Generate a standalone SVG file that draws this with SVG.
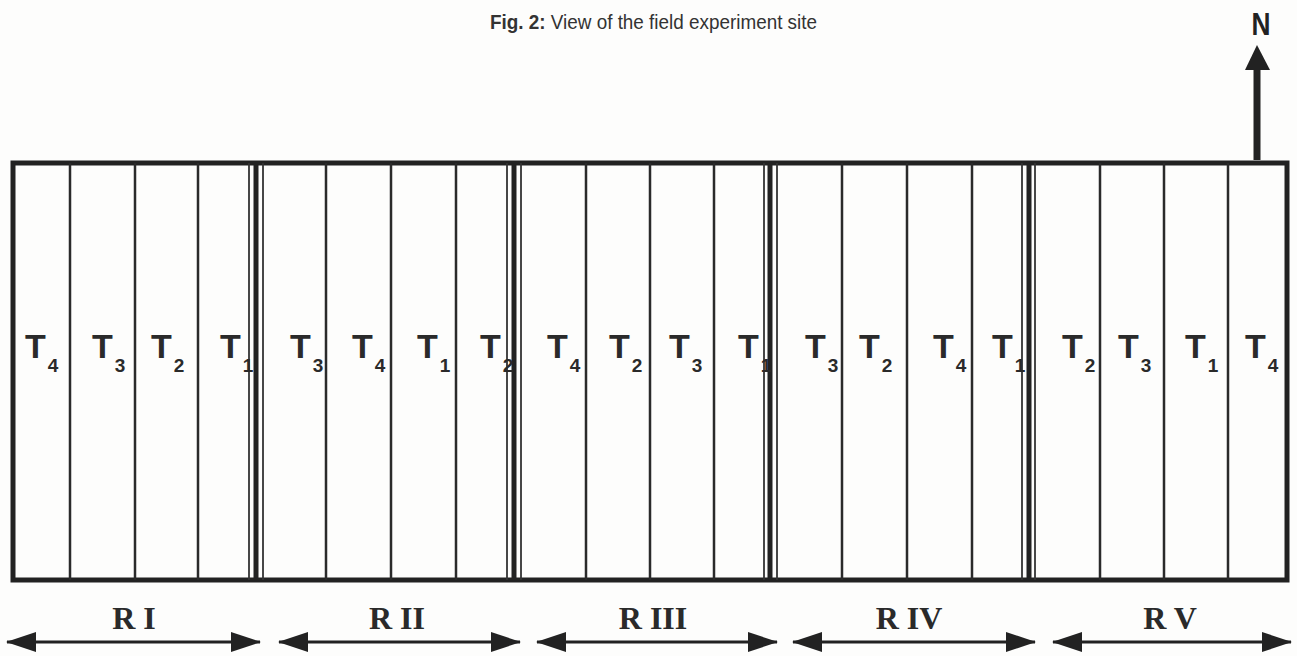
<svg xmlns="http://www.w3.org/2000/svg" width="1297" height="656" viewBox="0 0 1297 656">
<style>
.bg{fill:#fdfdfc}
.frame{fill:none;stroke:#222;stroke-width:5}
.div{stroke:#2a2a2a;stroke-width:2.5}
.sepT{stroke:#222;stroke-width:5}
.sept{stroke:#333;stroke-width:1.8}
.t{font-family:"Liberation Sans",Arial,sans-serif;font-weight:bold;font-size:34px;fill:#2a2a2a}
.s{font-size:19px}
.r{font-family:"Liberation Serif","Times New Roman",serif;font-weight:bold;font-size:32px;fill:#2a2a2a;text-anchor:middle}
.arr{stroke:#222;stroke-width:3}
.head{fill:#222}
.title{font-family:"Liberation Sans",Arial,sans-serif;font-size:20px;fill:#333}
</style>
<defs>
<marker id="ah" viewBox="0 0 30 20" refX="29" refY="10" markerWidth="30" markerHeight="20" markerUnits="userSpaceOnUse" orient="auto-start-reverse">
<path d="M0,0 L30,10 L0,20 Z" class="head"/>
</marker>
</defs>
<rect class="bg" x="0" y="0" width="1297" height="656"/>
<text class="title" x="490" y="29" textLength="327" lengthAdjust="spacingAndGlyphs"><tspan font-weight="bold">Fig. 2:</tspan> View of the field experiment site</text>
<g id="north">
<text x="1261" y="35" font-family="Liberation Sans,Arial,sans-serif" font-weight="bold" font-size="32" fill="#222" text-anchor="middle" textLength="19" lengthAdjust="spacingAndGlyphs">N</text>
<line x1="1257" y1="68" x2="1257" y2="160" stroke="#222" stroke-width="7"/>
<path d="M1257,45 L1270,70 L1245,70 Z" fill="#222"/>
</g>
<g id="field">
<rect class="frame" x="13" y="163" width="1274" height="417"/>
</g>
<g id="dividers">
<line class="div" x1="70" y1="163" x2="70" y2="580"/>
<line class="div" x1="135" y1="163" x2="135" y2="580"/>
<line class="div" x1="198" y1="163" x2="198" y2="580"/>
<line class="div" x1="326" y1="163" x2="326" y2="580"/>
<line class="div" x1="391" y1="163" x2="391" y2="580"/>
<line class="div" x1="456" y1="163" x2="456" y2="580"/>
<line class="div" x1="586" y1="163" x2="586" y2="580"/>
<line class="div" x1="650" y1="163" x2="650" y2="580"/>
<line class="div" x1="714" y1="163" x2="714" y2="580"/>
<line class="div" x1="842" y1="163" x2="842" y2="580"/>
<line class="div" x1="907" y1="163" x2="907" y2="580"/>
<line class="div" x1="972" y1="163" x2="972" y2="580"/>
<line class="div" x1="1100" y1="163" x2="1100" y2="580"/>
<line class="div" x1="1164" y1="163" x2="1164" y2="580"/>
<line class="div" x1="1228" y1="163" x2="1228" y2="580"/>
</g>
<g id="separators">
<line class="sept" x1="249" y1="163" x2="249" y2="580"/><line class="sepT" x1="256" y1="163" x2="256" y2="580"/><line class="sept" x1="263" y1="163" x2="263" y2="580"/>
<line class="sept" x1="507" y1="163" x2="507" y2="580"/><line class="sepT" x1="514" y1="163" x2="514" y2="580"/><line class="sept" x1="521" y1="163" x2="521" y2="580"/>
<line class="sept" x1="764" y1="163" x2="764" y2="580"/><line class="sepT" x1="770" y1="163" x2="770" y2="580"/><line class="sept" x1="777" y1="163" x2="777" y2="580"/>
<line class="sept" x1="1022" y1="163" x2="1022" y2="580"/><line class="sepT" x1="1029" y1="163" x2="1029" y2="580"/><line class="sept" x1="1035" y1="163" x2="1035" y2="580"/>
</g>
<g id="RI-plots">
<text class="t" x="25" y="358">T<tspan class="s" dx="2" dy="14">4</tspan></text>
<text class="t" x="92" y="358">T<tspan class="s" dx="2" dy="14">3</tspan></text>
<text class="t" x="151" y="358">T<tspan class="s" dx="2" dy="14">2</tspan></text>
<text class="t" x="220" y="358">T<tspan class="s" dx="2" dy="14">1</tspan></text>
</g>
<g id="RII-plots">
<text class="t" x="290" y="358">T<tspan class="s" dx="2" dy="14">3</tspan></text>
<text class="t" x="352" y="358">T<tspan class="s" dx="2" dy="14">4</tspan></text>
<text class="t" x="417" y="358">T<tspan class="s" dx="2" dy="14">1</tspan></text>
<text class="t" x="480" y="358">T<tspan class="s" dx="2" dy="14">2</tspan></text>
</g>
<g id="RIII-plots">
<text class="t" x="547" y="358">T<tspan class="s" dx="2" dy="14">4</tspan></text>
<text class="t" x="609" y="358">T<tspan class="s" dx="2" dy="14">2</tspan></text>
<text class="t" x="669" y="358">T<tspan class="s" dx="2" dy="14">3</tspan></text>
<text class="t" x="738" y="358">T<tspan class="s" dx="2" dy="14">1</tspan></text>
</g>
<g id="RIV-plots">
<text class="t" x="805" y="358">T<tspan class="s" dx="2" dy="14">3</tspan></text>
<text class="t" x="859" y="358">T<tspan class="s" dx="2" dy="14">2</tspan></text>
<text class="t" x="933" y="358">T<tspan class="s" dx="2" dy="14">4</tspan></text>
<text class="t" x="992" y="358">T<tspan class="s" dx="2" dy="14">1</tspan></text>
</g>
<g id="RV-plots">
<text class="t" x="1062" y="358">T<tspan class="s" dx="2" dy="14">2</tspan></text>
<text class="t" x="1118" y="358">T<tspan class="s" dx="2" dy="14">3</tspan></text>
<text class="t" x="1185" y="358">T<tspan class="s" dx="2" dy="14">1</tspan></text>
<text class="t" x="1245" y="358">T<tspan class="s" dx="2" dy="14">4</tspan></text>
</g>
<g id="replicate-labels">
<text class="r" x="134" y="629">R I</text>
<text class="r" x="397" y="629">R II</text>
<text class="r" x="653" y="629">R III</text>
<text class="r" x="909" y="629">R IV</text>
<text class="r" x="1170" y="629">R V</text>
</g>
<g id="connectors">
<line class="arr" x1="7" y1="642" x2="260" y2="642" marker-start="url(#ah)" marker-end="url(#ah)"/>
<line class="arr" x1="279" y1="642" x2="520" y2="642" marker-start="url(#ah)" marker-end="url(#ah)"/>
<line class="arr" x1="537" y1="642" x2="777" y2="642" marker-start="url(#ah)" marker-end="url(#ah)"/>
<line class="arr" x1="793" y1="642" x2="1035" y2="642" marker-start="url(#ah)" marker-end="url(#ah)"/>
<line class="arr" x1="1053" y1="642" x2="1291" y2="642" marker-start="url(#ah)" marker-end="url(#ah)"/>
</g>
</svg>
